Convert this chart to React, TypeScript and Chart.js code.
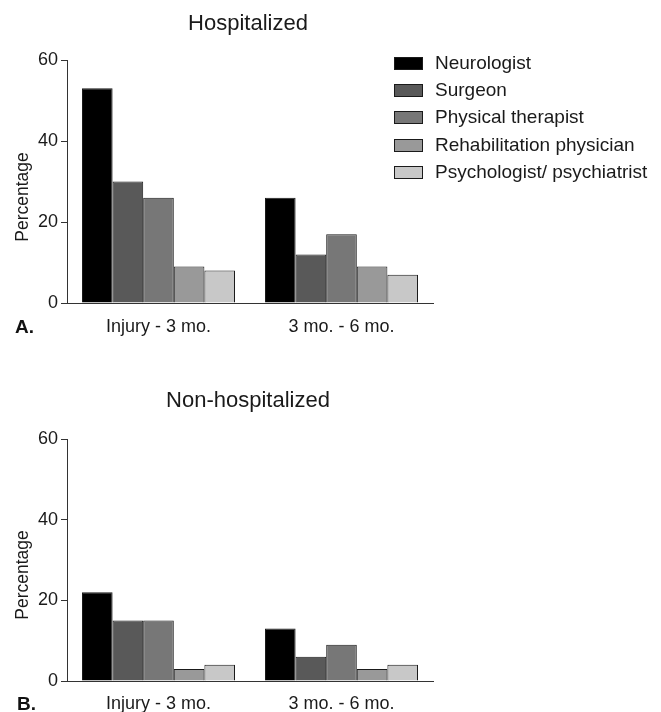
import React, { useEffect, useRef } from "react";
import { Chart, registerables } from "chart.js";

Chart.register(...registerables);

const categories = ["Injury - 3 mo.", "3 mo. - 6 mo."];
const seriesNames = [
  "Neurologist",
  "Surgeon",
  "Physical therapist",
  "Rehabilitation physician",
  "Psychologist/ psychiatrist",
];
const seriesColors = ["#000000", "#595959", "#777777", "#999999", "#c8c8c8"];
const hospitalized = [
  [53, 26],
  [30, 12],
  [26, 17],
  [9, 9],
  [8, 7],
];
const nonHospitalized = [
  [22, 13],
  [15, 6],
  [15, 9],
  [3, 3],
  [4, 4],
];
const yTicks = [0, 20, 40, 60];

const FONT = "'Liberation Sans', Arial, sans-serif";
const TEXT = "#1a1a1a";

type PanelProps = {
  values: number[][];
  height: number;
  padTop: number;
  axisBottom: number;
  labelPad: number;
};

function Panel({ values, height, padTop, axisBottom, labelPad }: PanelProps) {
  const ref = useRef<HTMLCanvasElement | null>(null);
  useEffect(() => {
    if (!ref.current) return;
    const chart = new Chart(ref.current, {
      type: "bar",
      data: {
        labels: categories,
        datasets: seriesNames.map((name, i) => ({
          label: name,
          data: values[i],
          backgroundColor: seriesColors[i],
          borderColor: "#1a1a1a",
          borderWidth: 1,
          categoryPercentage: 0.836,
          barPercentage: 1,
        })),
      },
      options: {
        animation: false,
        responsive: false,
        maintainAspectRatio: false,
        events: [],
        layout: { padding: { left: 0, right: 228, top: padTop, bottom: 0 } },
        plugins: {
          legend: { display: false },
          tooltip: { enabled: false },
          title: { display: false },
        },
        scales: {
          x: {
            grid: { display: false, drawTicks: false },
            border: { display: true, color: "#333333", width: 1 },
            ticks: {
              color: TEXT,
              font: { family: FONT, size: 18 },
              padding: labelPad,
            },
            afterFit: (s: any) => {
              s.height = height - axisBottom;
            },
          },
          y: {
            min: 0,
            max: 60,
            afterBuildTicks: (s: any) => {
              s.ticks = yTicks.map((v) => ({ value: v }));
            },
            grid: {
              drawOnChartArea: false,
              drawTicks: true,
              tickLength: 6,
              color: "#333333",
            },
            border: { display: true, color: "#333333", width: 1 },
            ticks: {
              color: TEXT,
              font: { family: FONT, size: 18 },
              padding: 3,
            },
            afterFit: (s: any) => {
              s.width = 67;
            },
          },
        },
      },
    });
    return () => chart.destroy();
  }, []);
  return <canvas ref={ref} width={661} height={height} style={{ display: "block" }} />;
}

const abs = (o: React.CSSProperties): React.CSSProperties => ({
  position: "absolute",
  fontFamily: FONT,
  color: TEXT,
  whiteSpace: "nowrap",
  lineHeight: 1,
  ...o,
});

export default function App() {
  return (
    <div
      style={{
        position: "fixed",
        left: 0,
        top: 0,
        width: 661,
        height: 712,
        background: "#ffffff",
        overflow: "hidden",
      }}
    >
      <div style={{ position: "absolute", left: 0, top: 0 }}>
        <Panel values={hospitalized} height={345} padTop={60} axisBottom={303} labelPad={13} />
      </div>
      <div style={{ position: "absolute", left: 0, top: 345 }}>
        <Panel values={nonHospitalized} height={367} padTop={94} axisBottom={336} labelPad={12} />
      </div>

      <div style={abs({ left: 148, width: 200, textAlign: "center", top: 12, fontSize: 22 })}>
        Hospitalized
      </div>
      <div style={abs({ left: 148, width: 200, textAlign: "center", top: 389, fontSize: 22 })}>
        Non-hospitalized
      </div>

      <div style={abs({ left: 15, top: 317, fontSize: 19, fontWeight: "bold", color: "#111" })}>A.</div>
      <div style={abs({ left: 17, top: 694, fontSize: 19, fontWeight: "bold", color: "#111" })}>B.</div>

      <div
        style={abs({
          left: 23,
          top: 197,
          fontSize: 17.5,
          transform: "translate(-50%, -50%) rotate(-90deg)",
        })}
      >
        Percentage
      </div>
      <div
        style={abs({
          left: 23,
          top: 575,
          fontSize: 17.5,
          transform: "translate(-50%, -50%) rotate(-90deg)",
        })}
      >
        Percentage
      </div>

      {seriesNames.map((name, i) => (
        <div key={name} style={abs({ left: 394, top: 63 + i * 27.2 - 10, height: 20 })}>
          <div
            style={{
              position: "absolute",
              left: 0,
              top: 4,
              width: 27,
              height: 11,
              background: seriesColors[i],
              border: "1px solid #1a1a1a",
            }}
          />
          <div style={{ position: "absolute", left: 41, top: 0, fontSize: 19, lineHeight: 1 }}>{name}</div>
        </div>
      ))}
    </div>
  );
}
